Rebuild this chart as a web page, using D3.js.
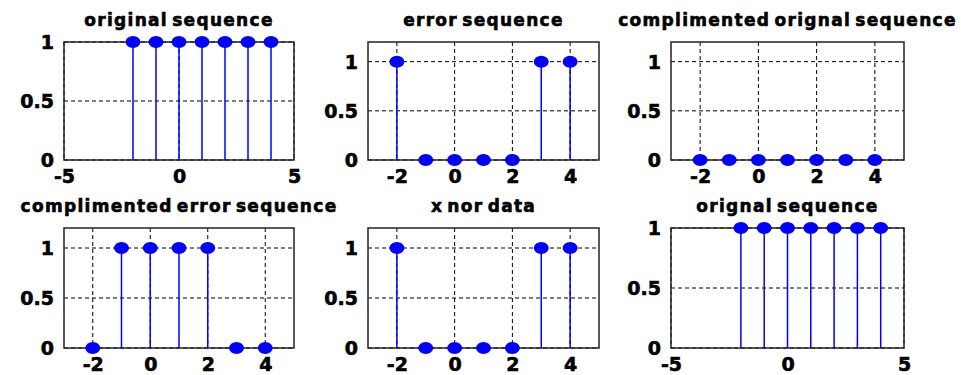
<!DOCTYPE html>
<html>
<head>
<meta charset="utf-8">
<script src="https://cdn.jsdelivr.net/npm/d3@7"></script>
<style>
  body { margin: 0; background: #fff; }
  text { font-family: "DejaVu Sans", sans-serif; font-weight: bold; fill: #000; }
</style>
</head>
<body>
<div id="wrapper"></div>
<script>
// ---- data
const n = [-2, -1, 0, 1, 2, 3, 4]
const originalSeq = [1, 1, 1, 1, 1, 1, 1]
const errorSeq = [1, 0, 0, 0, 0, 1, 1]
const compOriginal = [0, 0, 0, 0, 0, 0, 0]
const compError = [0, 1, 1, 1, 1, 0, 0]
const xnorData = [1, 0, 0, 0, 0, 1, 1]
const orignalSeq = [1, 1, 1, 1, 1, 1, 1]

const titles = ["original sequence", "error sequence", "complimented orignal sequence",
                "complimented error sequence", "x nor data", "orignal sequence"]
const seriesList = [originalSeq, errorSeq, compOriginal, compError, xnorData, orignalSeq]

const xDomainWide = [-5, 5]
const xTicksWide = [-5, 0, 5]
const xDomainTight = [-3, 5]
const xTicksTight = [-2, 0, 2, 4]
const yDomainFull = [0, 1]
const yDomainTall = [0, 1.2]
const yTicks = [0, 0.5, 1]

// which panels use the [-5,5] x range
const widePanels = [0, 5]

// ---- layout
const width = 961
const height = 375
const colLeft = [64, 368, 671]
const colWidth = [230, 231, 233]
const rowTop = [42, 228]
const rowHeight = [118, 120]

const svg = d3.select("#wrapper")
  .append("svg")
  .attr("width", width)
  .attr("height", height)

seriesList.forEach((values, i) => {
  const col = i % 3
  const row = Math.floor(i / 3)
  const wide = widePanels.includes(i)
  const w = colWidth[col]
  const h = rowHeight[row]

  const xScale = d3.scaleLinear()
    .domain(wide ? xDomainWide : xDomainTight)
    .range([0, w])
  const yScale = d3.scaleLinear()
    .domain(wide ? yDomainFull : yDomainTall)
    .range([h, 0])
  const xTicks = wide ? xTicksWide : xTicksTight

  const g = svg.append("g")
    .attr("transform", `translate(${colLeft[col]},${rowTop[row]})`)

  // grid
  g.append("g").selectAll("line")
    .data(xTicks)
    .join("line")
    .attr("x1", d => xScale(d)).attr("x2", d => xScale(d))
    .attr("y1", 0).attr("y2", h)
    .attr("stroke", "#000")
    .attr("stroke-width", 1)
    .attr("stroke-dasharray", "4,3")
  g.append("g").selectAll("line")
    .data(yTicks)
    .join("line")
    .attr("x1", 0).attr("x2", w)
    .attr("y1", d => yScale(d)).attr("y2", d => yScale(d))
    .attr("stroke", "#000")
    .attr("stroke-width", 1)
    .attr("stroke-dasharray", "4,3")

  // box
  g.append("rect")
    .attr("width", w).attr("height", h)
    .attr("fill", "none")
    .attr("stroke", "#222")
    .attr("stroke-width", 1.5)

  // axes (labels only)
  const xAxis = g.append("g")
    .attr("transform", `translate(0,${h})`)
    .call(d3.axisBottom(xScale).tickValues(xTicks).tickSize(0).tickPadding(0)
      .tickFormat(d => String(d)))
  xAxis.select(".domain").remove()
  xAxis.selectAll(".tick text")
    .attr("dy", null)
    .attr("y", 23)
    .attr("font-size", 19)
    .attr("font-family", "DejaVu Sans")
    .attr("font-weight", "bold")
    .attr("fill", "#000")
    .attr("stroke", "#000")
    .attr("stroke-width", 0.6)

  const yAxis = g.append("g")
    .call(d3.axisLeft(yScale).tickValues(yTicks).tickSize(0).tickPadding(10)
      .tickFormat(d => String(d)))
  yAxis.select(".domain").remove()
  yAxis.selectAll(".tick text")
    .attr("dy", "0.36em")
    .attr("font-size", 19)
    .attr("font-family", "DejaVu Sans")
    .attr("font-weight", "bold")
    .attr("fill", "#000")
    .attr("stroke", "#000")
    .attr("stroke-width", 0.6)

  // stems
  const pts = n.map((x, k) => ({ x: x, y: values[k] }))
  g.append("g").selectAll("line")
    .data(pts)
    .join("line")
    .attr("x1", d => xScale(d.x)).attr("x2", d => xScale(d.x))
    .attr("y1", yScale(0)).attr("y2", d => yScale(d.y))
    .attr("stroke", "#0000ff")
    .attr("stroke-width", 1.5)
  g.append("g").selectAll("ellipse")
    .data(pts)
    .join("ellipse")
    .attr("cx", d => xScale(d.x))
    .attr("cy", d => yScale(d.y))
    .attr("rx", 7.5)
    .attr("ry", 6)
    .attr("fill", "#0000ff")

  // title
  g.append("text")
    .attr("x", w / 2)
    .attr("y", -16)
    .attr("text-anchor", "middle")
    .attr("font-size", 17)
    .attr("stroke", "#000")
    .attr("stroke-width", 0.6)
    .style("letter-spacing", "1.3px")
    .style("word-spacing", "-3px")
    .text(titles[i])
})
</script>
</body>
</html>
